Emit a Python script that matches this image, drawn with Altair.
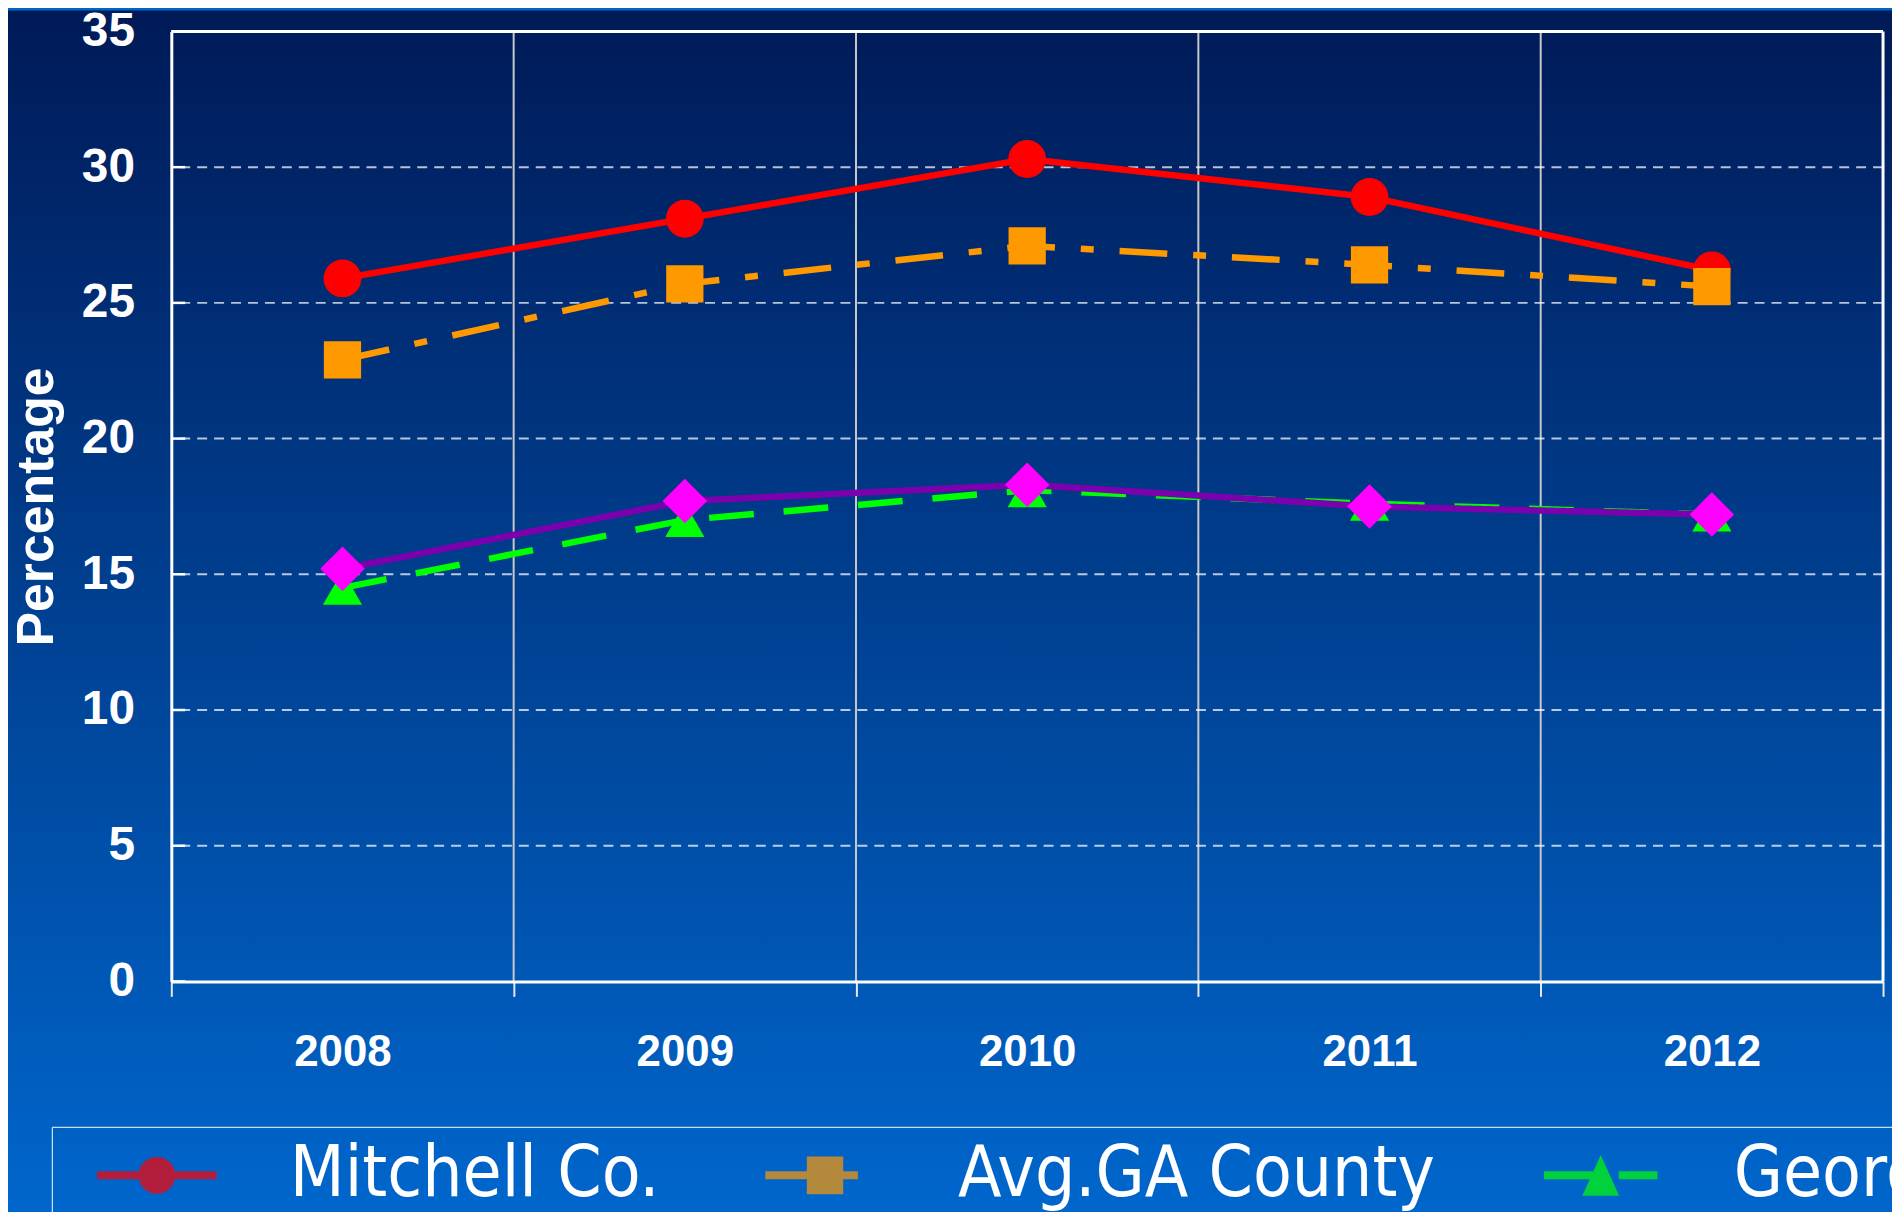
import math
import altair as alt
import pandas as pd

# ---------------- data ----------------
years = [2008, 2009, 2010, 2011, 2012]
series = ["Mitchell Co.", "Avg.GA County", "Georgia", "U.S."]
mitchell = [25.9, 28.1, 30.3, 28.9, 26.2]
avg_ga = [22.9, 25.7, 27.1, 26.4, 25.6]
georgia = [14.5, 17.0, 18.1, 17.6, 17.2]
us = [15.2, 17.7, 18.3, 17.5, 17.2]
y_ticks = [0, 5, 10, 15, 20, 25, 30, 35]

# ---------------- styles ----------------
line_colors = ["#ff0000", "#ff9900", "#00ff00", "#7b00ae"]
marker_colors = ["#ff0000", "#ff9900", "#00ff00", "#ff00ff"]
shapes = ["circle", "square", "triangle-up", "diamond"]
sizes = [1444, 1400, 1550, 2000]
dashes = [[1, 0], [48, 26, 13, 26], [45, 30], [1, 0]]

W, H = 1719, 954
BOLD = "Liberation Sans, Arial, sans-serif"
NARROW = "Liberation Sans Narrow, Arial Narrow, DejaVu Sans Condensed, sans-serif"

rows = []
for s, vals in zip(series, [mitchell, avg_ga, georgia, us]):
    for yr, v in zip(years, vals):
        rows.append({"series": s, "year": yr, "value": v})
df = pd.DataFrame(rows)

# ---------------- legend symbol paths ----------------
U = 35.5  # px per unit for symbolSize 5041


def rect_p(x0, x1, h):
    return (f"M{x0/U:.3f},{-h/U:.3f}L{x1/U:.3f},{-h/U:.3f}"
            f"L{x1/U:.3f},{h/U:.3f}L{x0/U:.3f},{h/U:.3f}Z")


def poly_p(pts):
    return "M" + "L".join(f"{x/U:.3f},{y/U:.3f}" for x, y in pts) + "Z"


circle_pts = [(18.5 * math.cos(2 * math.pi * k / 40), 18.5 * math.sin(2 * math.pi * k / 40)) for k in range(40)]
legend_paths = [
    rect_p(-60, -15, 4) + poly_p(circle_pts) + rect_p(15, 60, 4),
    rect_p(-60, -16, 4) + poly_p([(-18.3, -19), (18.3, -19), (18.3, 19), (-18.3, 19)]) + rect_p(16, 33, 4),
    rect_p(-57, -8, 4) + poly_p([(0, -20.5), (18.5, 20.5), (-18.5, 20.5)]) + rect_p(18, 57, 4),
    rect_p(-60, -15, 4) + poly_p([(-21.5, 0), (0, -23), (21.5, 0), (0, 23)]) + rect_p(15, 60, 4),
]

# ---------------- axes / scales ----------------
x_scale = alt.Scale(type="band", domain=years, paddingInner=0, paddingOuter=0)
x_axis = alt.Axis(
    tickBand="extent", grid=False, domain=True, domainColor="white", domainWidth=3,
    ticks=True, tickSize=15, tickColor="#e8e8e8", tickWidth=2,
    labelAngle=0, labelFont=BOLD, labelFontWeight="bold", labelFontSize=44,
    labelColor="white", labelPadding=34, title=None, zindex=1,
)
y_scale = alt.Scale(domain=[0, 35], nice=False, zero=True)
y_axis = alt.Axis(
    values=y_ticks, grid=False, domain=True, domainColor="white", domainWidth=3,
    ticks=False, labelFont=BOLD, labelFontWeight="bold", labelFontSize=48,
    labelColor="white", labelPadding=37,
    title="Percentage", titleFont=BOLD, titleFontWeight="bold", titleFontSize=52,
    titleColor="white", titleX=-108, titleY=477, titleAngle=270,
    titleBaseline="bottom", titleAlign="center", zindex=1,
)


def xe(bp):
    return alt.X("year:O", scale=x_scale, axis=x_axis, bandPosition=bp)


ye = alt.Y("value:Q", scale=y_scale, axis=y_axis)

# ---------------- layers ----------------
gradient = alt.Gradient(
    gradient="linear",
    stops=[alt.GradientStop(color="#001a57", offset=0), alt.GradientStop(color="#0066cc", offset=1)],
    x1=0, x2=0, y1=0, y2=1,
)
bg = alt.Chart(pd.DataFrame({"k": [0]})).mark_rect(fill=gradient).encode(
    x=alt.value(-164), x2=alt.value(1728), y=alt.value(-21), y2=alt.value(1183)
)

vgrid = alt.Chart(pd.DataFrame({"year": years[1:]})).mark_rule(
    stroke="#c8c8c8", strokeWidth=2
).encode(x=xe(0))

rborder = alt.Chart(pd.DataFrame({"year": [years[-1]]})).mark_rule(
    stroke="white", strokeWidth=3
).encode(x=xe(1))

hgrid = alt.Chart(pd.DataFrame({"value": y_ticks[1:-1]})).mark_rule(
    stroke="white", strokeOpacity=0.72, strokeWidth=2, strokeDash=[10, 7]
).encode(y=ye)

tborder = alt.Chart(pd.DataFrame({"value": [y_ticks[-1]]})).mark_rule(
    stroke="white", strokeWidth=3
).encode(y=ye)

yticks = alt.Chart(pd.DataFrame({"value": y_ticks})).mark_rule(
    stroke="white", strokeWidth=2.5
).encode(y=ye, x=alt.value(0), x2=alt.value(14))

line_layers = []
for s, col, dash in zip(series, line_colors, dashes):
    line_layers.append(
        alt.Chart(df).transform_filter(alt.datum.series == s).mark_line(
            stroke=col, strokeWidth=6.5, strokeDash=dash
        ).encode(x=xe(0.5), y=ye)
    )

legend = alt.Legend(
    title=None, orient="none", legendX=-120, legendY=1100, direction="horizontal",
    columns=4, padding=12, strokeColor="white", labelFont=NARROW, labelFontSize=71,
    labelColor="white", labelLimit=1000, symbolSize=5041, symbolOffset=57,
    labelOffset=97, columnPadding=72, zindex=1,
)

# legend-only layer: tiny marks hidden under the real markers; it carries the legend
legend_layer = alt.Chart(df).mark_point(filled=True, size=4).encode(
    x=xe(0.5),
    y=ye,
    color=alt.Color("series:N", scale=alt.Scale(domain=series, range=marker_colors), legend=legend),
    shape=alt.Shape("series:N", scale=alt.Scale(domain=series, range=legend_paths), legend=legend),
)

point_layers = []
for s, shp, col, sz in zip(series, shapes, marker_colors, sizes):
    point_layers.append(
        alt.Chart(df).transform_filter(alt.datum.series == s).mark_point(
            filled=True, opacity=1, strokeWidth=0, shape=shp, fill=col, size=sz
        ).encode(x=xe(0.5), y=ye)
    )

chart = alt.layer(
    bg, vgrid, rborder, hgrid, tborder, yticks, *line_layers, legend_layer, *point_layers
).properties(
    width=W, height=H,
    autosize=alt.AutoSizeParams(type="none"),
    padding={"left": 164, "top": 21, "right": 9, "bottom": 229},
    background="#0066cc",
).configure_view(strokeWidth=0)

chart.save("out.html", embed_options={"renderer": "svg", "actions": False})
